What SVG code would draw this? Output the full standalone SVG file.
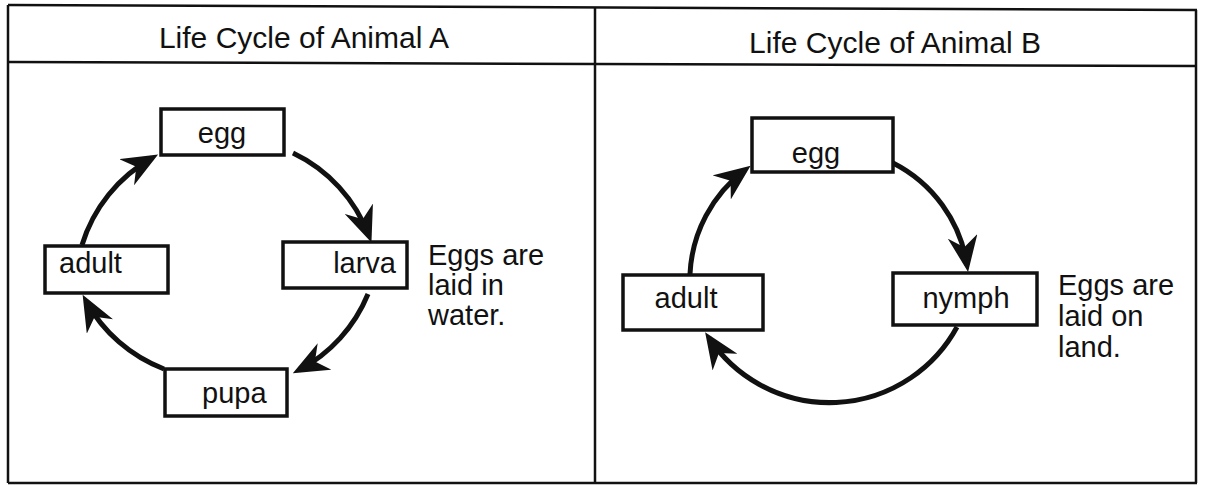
<svg xmlns="http://www.w3.org/2000/svg" width="1206" height="485" viewBox="0 0 1206 485">
<style>
.frame{fill:none;stroke:#111;stroke-width:2.5}
.box{fill:#fff;stroke:#111;stroke-width:3.5}
.lbl{font-family:"Liberation Sans",Arial,sans-serif;font-size:29px;fill:#111}
.ttl{font-family:"Liberation Sans",Arial,sans-serif;font-size:30px;fill:#111;text-anchor:middle}
.arr{fill:none;stroke:#111;stroke-width:5;marker-end:url(#ah)}
</style>
<defs>
<marker id="ah" markerUnits="userSpaceOnUse" viewBox="0 0 36 30" markerWidth="36" markerHeight="30" refX="29" refY="15" orient="auto">
<path d="M0,0 L36,15 L0,30 L11,15 z" fill="#111"/>
</marker>
</defs>
<g id="frame">
<line class="frame" x1="8" y1="5" x2="1197" y2="10"/>
<line class="frame" x1="8" y1="62" x2="1197" y2="66"/>
<line class="frame" x1="8" y1="483" x2="1197" y2="483"/>
<line class="frame" x1="8" y1="5" x2="8" y2="483"/>
<line class="frame" x1="595" y1="7" x2="595" y2="483"/>
<line class="frame" x1="1196" y1="10" x2="1196" y2="483"/>
<text class="ttl" x="304" y="48">Life Cycle of Animal A</text>
<text class="ttl" x="895" y="53">Life Cycle of Animal B</text>
</g>
<g id="connectors">
<path class="arr" d="M293,153 A150,150 0 0 1 369,236"/>
<path class="arr" d="M368,294 A150,150 0 0 1 299,370"/>
<path class="arr" d="M164,369 A150,150 0 0 1 86,301"/>
<path class="arr" d="M82,245 A150,150 0 0 1 152,158"/>
<path class="arr" d="M893,163 A138,138 0 0 1 967,265"/>
<path class="arr" d="M957,327 A145,145 0 0 1 709,338"/>
<path class="arr" d="M690,274 A138,138 0 0 1 745,170"/>
</g>
<g id="a-egg"><rect class="box" x="161" y="109" width="123" height="46"/><text class="lbl" x="222" y="143" text-anchor="middle">egg</text></g>
<g id="a-adult"><rect class="box" x="45" y="246" width="123" height="47"/><text class="lbl" x="59" y="273">adult</text></g>
<g id="a-larva"><rect class="box" x="283" y="242" width="124" height="46"/><text class="lbl" x="396" y="273" text-anchor="end">larva</text></g>
<g id="a-pupa"><rect class="box" x="165" y="369" width="122" height="47"/><text class="lbl" x="202" y="403">pupa</text></g>
<g id="a-note"><text class="lbl" x="428" y="265">Eggs are</text><text class="lbl" x="428" y="295">laid in</text><text class="lbl" x="428" y="325">water.</text></g>
<g id="b-egg"><rect class="box" x="752" y="118" width="141" height="54"/><text class="lbl" x="816" y="163" text-anchor="middle">egg</text></g>
<g id="b-adult"><rect class="box" x="623" y="275" width="140" height="55"/><text class="lbl" x="686" y="308" text-anchor="middle">adult</text></g>
<g id="b-nymph"><rect class="box" x="893" y="273" width="144" height="52"/><text class="lbl" x="966" y="308" text-anchor="middle">nymph</text></g>
<g id="b-note"><text class="lbl" x="1058" y="295">Eggs are</text><text class="lbl" x="1058" y="326">laid on</text><text class="lbl" x="1058" y="357">land.</text></g>
</svg>
